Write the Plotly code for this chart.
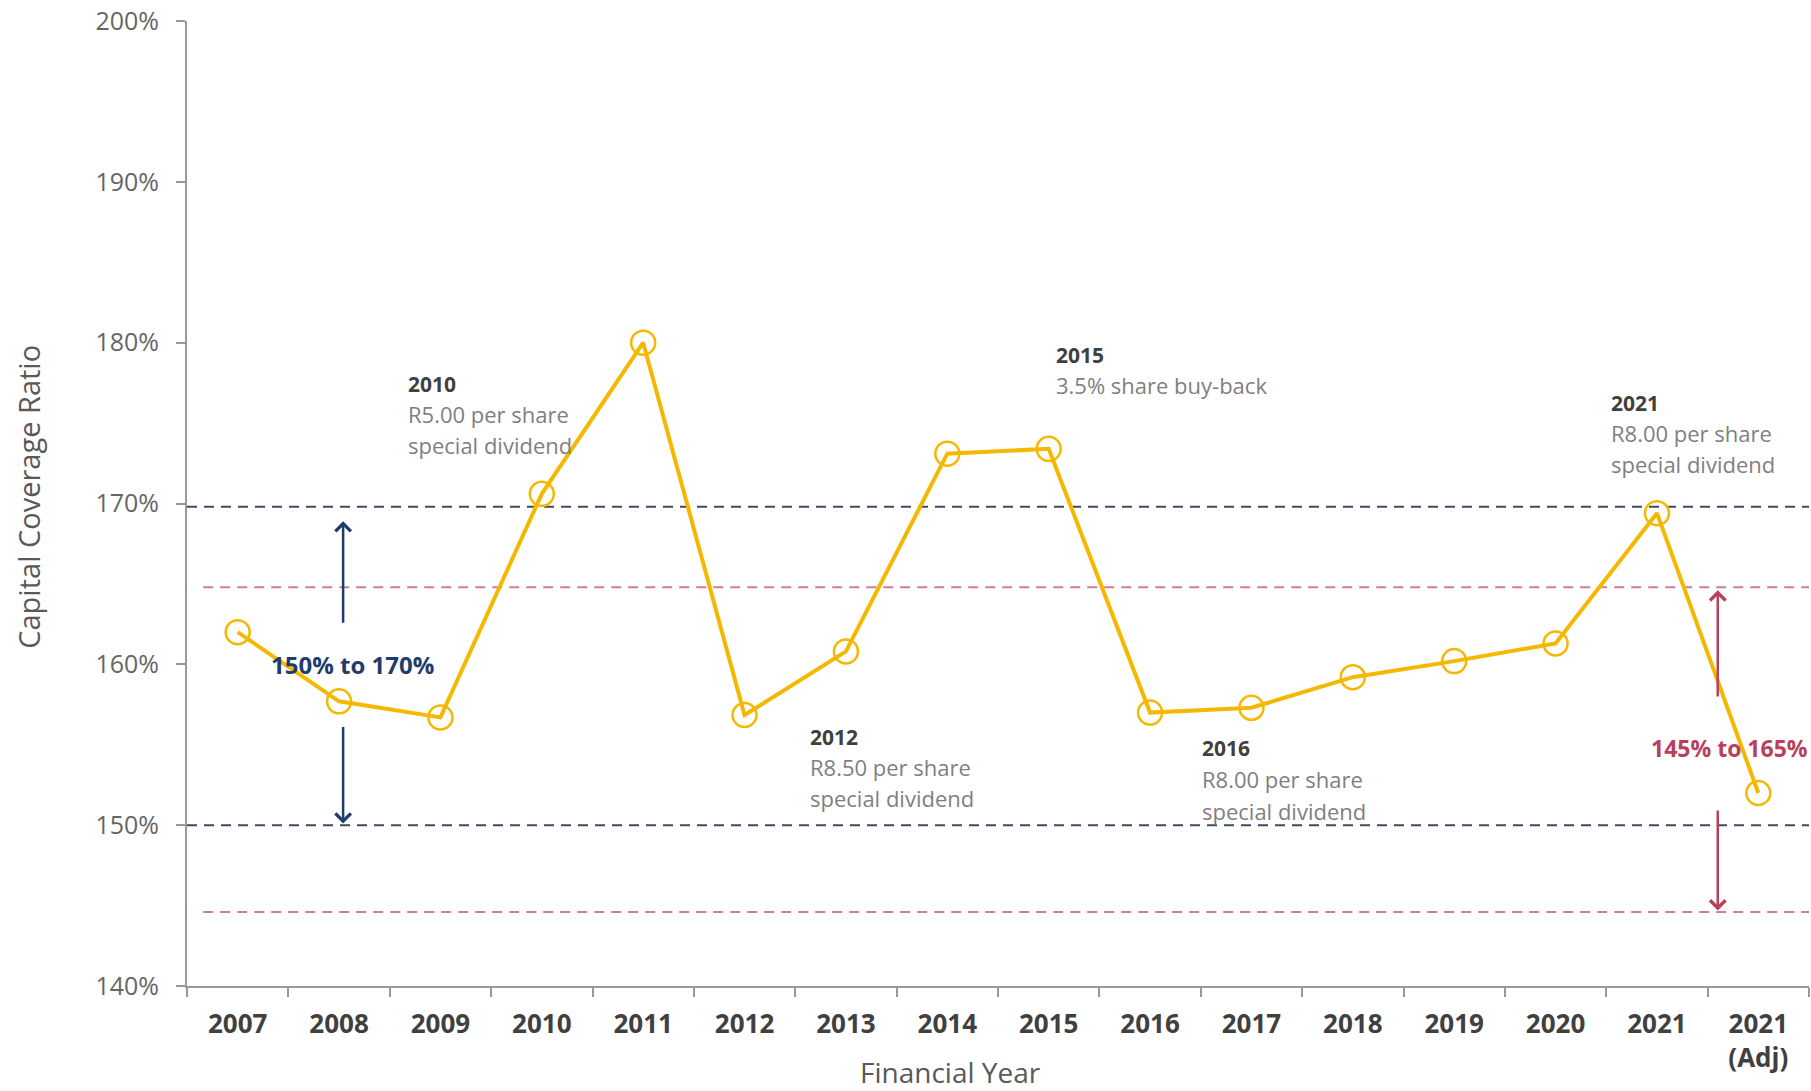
import plotly.graph_objects as go

# ---------------- data ----------------
categories = ["2007", "2008", "2009", "2010", "2011", "2012", "2013", "2014",
              "2015", "2016", "2017", "2018", "2019", "2020", "2021", "2021 (Adj)"]
tick_labels = ["2007", "2008", "2009", "2010", "2011", "2012", "2013", "2014",
               "2015", "2016", "2017", "2018", "2019", "2020", "2021", "2021<br>(Adj)"]
capital_coverage = [162.0, 157.7, 156.7, 170.6, 180.0, 156.85, 160.8, 173.1,
                    173.4, 157.0, 157.3, 159.2, 160.2, 161.3, 169.4, 152.0]
blue_band = [150.0, 169.8]   # 150% to 170% target range
pink_band = [144.6, 164.8]   # 145% to 165% target range
y_ticks = [140, 150, 160, 170, 180, 190, 200]

GOLD = "#F5B800"
NAVY = "#1F3C6B"
NAVY_LINE = "#3F4A66"
PINK_LINE = "#CF7F95"
RED = "#B8405C"
DARK = "#404040"
GREY = "#7F7F7F"
AXIS = "#999999"
FONT = "Open Sans"

fig = go.Figure()
fig.add_trace(go.Scatter(
    x=categories, y=capital_coverage, mode="lines+markers",
    line=dict(color=GOLD, width=4),
    marker=dict(symbol="circle-open", size=24, color=GOLD, line=dict(width=2.5, color=GOLD)),
    showlegend=False, hoverinfo="x+y",
))

shapes = []
for v in blue_band:
    shapes.append(dict(type="line", xref="paper", x0=0, x1=1, yref="y", y0=v, y1=v,
                       line=dict(color=NAVY_LINE, width=2, dash="10px,7px"), layer="below"))
for v in pink_band:
    shapes.append(dict(type="line", xref="paper", x0=0.01, x1=1, yref="y", y0=v, y1=v,
                       line=dict(color=PINK_LINE, width=2, dash="10px,7px"), layer="below"))

annotations = []

def note(x, ys, title, lines):
    annotations.append(dict(x=x, y=ys[0], xref="x", yref="y", text="<b>%s</b>" % title,
                            showarrow=False, xanchor="left", yanchor="middle",
                            font=dict(family=FONT, size=21, color=DARK)))
    for yy, t in zip(ys[1:], lines):
        annotations.append(dict(x=x, y=yy, xref="x", yref="y", text=t,
                                showarrow=False, xanchor="left", yanchor="middle",
                                font=dict(family=FONT, size=22, color=GREY)))

note(1.66, [177.46, 175.59, 173.65], "2010", ["R5.00 per share", "special dividend"])
note(8.05, [179.25, 177.39], "2015", ["3.5% share buy-back"])
note(13.53, [176.24, 174.37, 172.43], "2021", ["R8.00 per share", "special dividend"])
note(5.63, [155.49, 153.62, 151.69], "2012", ["R8.50 per share", "special dividend"])
note(9.49, [154.77, 152.84, 150.90], "2016", ["R8.00 per share", "special dividend"])

def arrow(x, y_head, y_tail, color):
    annotations.append(dict(x=x, y=y_head, ax=x, ay=y_tail, xref="x", yref="y",
                            axref="x", ayref="y", text="", showarrow=True,
                            arrowhead=4, arrowsize=1.2, arrowwidth=2.5, arrowcolor=color))

arrow(1.04, 168.9, 162.5, NAVY)
arrow(1.04, 150.1, 156.2, NAVY)
arrow(14.6, 164.6, 157.9, RED)
arrow(14.6, 144.7, 151.0, RED)

annotations.append(dict(x=1.13, y=160.0, xref="x", yref="y", text="<b>150% to 170%</b>",
                        showarrow=False, font=dict(family=FONT, size=24, color=NAVY)))
annotations.append(dict(x=14.72, y=154.8, xref="x", yref="y", text="<b>145% to 165%</b>",
                        showarrow=False, font=dict(family=FONT, size=23, color=RED)))

annotations.append(dict(x=0.471, y=-0.089, xref="paper", yref="paper", text="Financial Year",
                        showarrow=False, xanchor="center", yanchor="middle",
                        font=dict(family=FONT, size=28, color="#595959")))
annotations.append(dict(x=-0.0974, y=0.507, xref="paper", yref="paper",
                        text="Capital Coverage Ratio", textangle=-90,
                        showarrow=False, xanchor="center", yanchor="middle",
                        font=dict(family=FONT, size=29, color="#595959")))

fig.update_layout(
    width=1811, height=1091,
    margin=dict(l=187, r=2, t=21, b=105),
    paper_bgcolor="white", plot_bgcolor="white",
    shapes=shapes, annotations=annotations,
    xaxis=dict(type="category", tickmode="array", tickvals=categories, ticktext=tick_labels,
               tickson="boundaries", ticks="outside", ticklen=9, tickwidth=1.5, tickcolor=AXIS,
               showline=True, linecolor=AXIS, linewidth=2, showgrid=False, zeroline=False,
               range=[-0.5, 15.5], ticklabelstandoff=14,
               tickfont=dict(family=FONT, size=26, color=DARK, weight="bold")),
    yaxis=dict(range=[140, 200], tickmode="array", tickvals=y_ticks,
               ticktext=["%d%%" % v for v in y_ticks],
               ticks="outside", ticklen=9, tickwidth=1.5, tickcolor=AXIS,
               showline=True, linecolor=AXIS, linewidth=2, showgrid=False, zeroline=False,
               ticklabelstandoff=12,
               tickfont=dict(family=FONT, size=25, color="#666666")),
)

fig.write_html("out.html")
